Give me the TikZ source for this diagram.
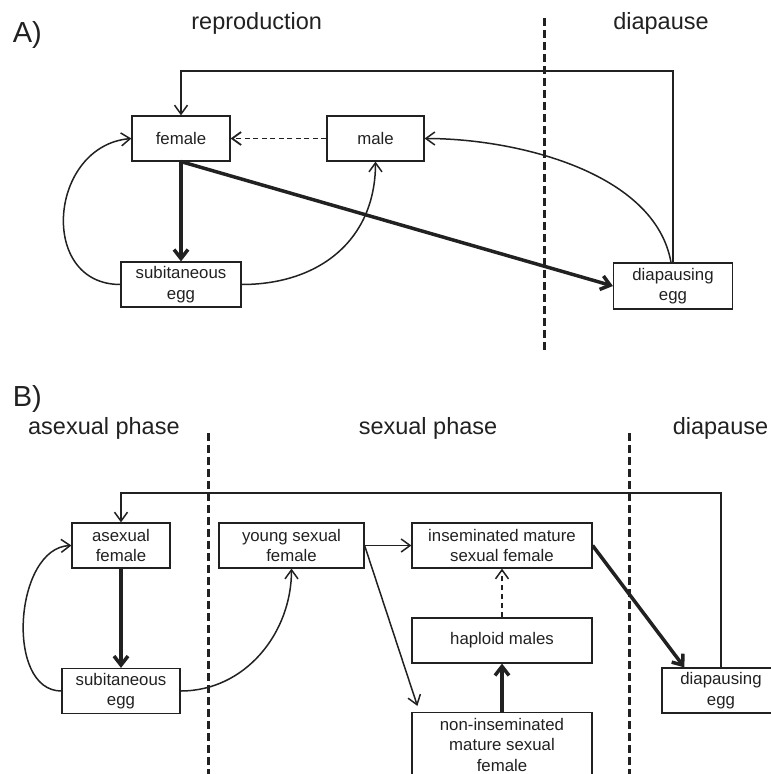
\documentclass[tikz,border=0pt]{standalone}
\usepackage{fontspec}
\setmainfont{Liberation Sans}
\usetikzlibrary{arrows.meta}
\definecolor{ink}{gray}{0.13}
\tikzset{
  stage/.style={draw=ink, line width=1.2pt, inner sep=0pt, align=center, text=ink,
    font=\fontsize{16.8}{20.5}\selectfont, minimum height=45pt},
  thinarr/.style={draw=ink, line width=1.5pt, -{Straight Barb[length=9pt,width=13pt]}},
  thickarr/.style={draw=ink, line width=3.5pt, -{Straight Barb[length=9pt,width=14pt]}},
  phaseline/.style={draw=ink, line width=3pt, dash pattern=on 8pt off 4pt},
  phaselabel/.style={anchor=base, inner sep=0pt, text=ink, font=\fontsize{23.5}{28}\selectfont},
  panel/.style={anchor=base west, inner sep=0pt, text=ink, font=\fontsize{29}{34}\selectfont}
}
\begin{document}
\begin{tikzpicture}[x=1pt,y=-1pt]
\useasboundingbox (0,0) rectangle (771,774);
% panel A
\node[panel] (labA) at (12.7,42) {A)};
\node[phaselabel] (repro) at (256.7,29.3) {reproduction};
\node[phaselabel] (diaA) at (661,29.3) {diapause};
\draw[phaseline] (544,18) -- (544,352);
\node[stage, minimum width=98pt] (female) at (181,138.5) {female};
\node[stage, minimum width=97pt] (male) at (375.5,138.5) {male};
\node[stage, minimum width=120pt] (subA) at (181,284.5) {subitaneous\\egg};
\node[stage, minimum width=119pt, minimum height=46pt] (diapA) at (673,286) {diapausing\\egg};
\coordinate (topA) at (0,71);
\draw[thinarr] (diapA.north) |- (female.north |- topA) -- (female.north);
\draw[thinarr, line width=1.8pt, dash pattern=on 5pt off 3.5pt] (male.west) -- (female.east);
\draw[thickarr] (female.south) -- (subA.north);
\draw[thickarr] (female.south) -- (diapA.west);
\draw[thinarr] (subA.west) to[out=180,in=185,looseness=1.45] (female.west);
\draw[thinarr] (subA.east) to[out=0,in=-90,looseness=1.1] (male.south);
\draw[thinarr] ([xshift=-2pt]diapA.north) to[out=100,in=0,looseness=0.85] (male.east);
% panel B
\node[panel] (labB) at (12.7,406) {B)};
\node[phaselabel] (asex) at (103.9,434) {asexual phase};
\node[phaselabel] (sex) at (428,434) {sexual phase};
\node[phaselabel] (diaB) at (720.5,434) {diapause};
\draw[phaseline] (208,433) -- (208,774);
\draw[phaseline] (629.5,433) -- (629.5,774);
\node[stage, minimum width=98pt] (asexF) at (121,545.5) {asexual\\female};
\node[stage, minimum width=118pt] (subB) at (121,691) {subitaneous\\egg};
\node[stage, minimum width=145pt] (young) at (291.5,545.5) {young sexual\\female};
\node[stage, minimum width=180pt] (insem) at (502,545.5) {inseminated mature\\sexual female};
\node[stage, minimum width=180pt] (haplo) at (502,640.5) {haploid males};
\node[stage, minimum width=180pt, minimum height=64pt] (nonins) at (502,744.5) {non-inseminated\\mature sexual\\female};
\node[stage, minimum width=118pt] (diapB) at (721,690.5) {diapausing\\egg};
\coordinate (topB) at (0,493);
\draw[thinarr] (diapB.north) |- (asexF.north |- topB) -- (asexF.north);
\draw[thickarr] (asexF.south) -- (subB.north);
\draw[thinarr] (subB.west) to[out=180,in=182,looseness=1] (asexF.west);
\draw[thinarr] (subB.east) to[out=0,in=-90] (young.south);
\draw[thinarr] (young.east) -- (insem.west);
\draw[thinarr] (young.east) -- ([xshift=6pt,yshift=6pt]nonins.north west);
\draw[thinarr, dash pattern=on 5pt off 4pt] (haplo.north) -- (insem.south);
\draw[thickarr] (nonins.north) -- (haplo.south);
\draw[thickarr] (insem.east) -- ([xshift=23pt]diapB.north west);
\end{tikzpicture}
\end{document}
